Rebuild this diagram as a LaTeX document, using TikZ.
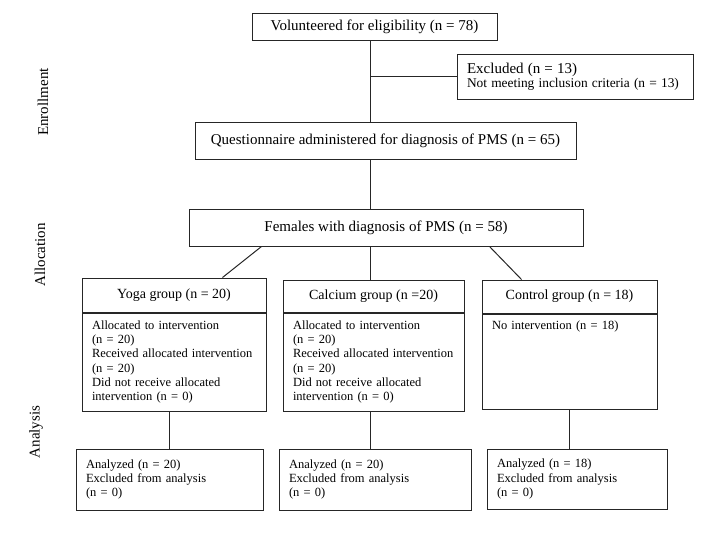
\documentclass[tikz,border=0pt]{standalone}
\usepackage{fontspec}
\setmainfont{Liberation Serif}
\usetikzlibrary{positioning}
\begin{document}
\begin{tikzpicture}[x=1pt, y=-1pt,
      box/.style = {
        rectangle, draw=black!85, line width=1pt, inner sep=0pt },
      main/.style = {
        box, font=\fontsize{15}{17}\selectfont },
      head/.style = {
        box, font=\fontsize{14}{16}\selectfont },
      body/.style = {
        box, align=left, inner xsep=10pt, inner ysep=6pt,
        font=\fontsize{12.5}{14.3}\selectfont },
      stage/.style = { rotate=90, font=\fontsize{15}{17}\selectfont },
      line/.style = { draw=black!85, line width=1pt }]
    \useasboundingbox (0,0) rectangle (701,536);
    \coordinate (spine) at (370,0);
    % stages on the left
    \node [stage] (enrol) at (43,102) {Enrollment};
    \node [stage] (alloc) at (40,255) {Allocation};
    \node [stage] (anal) at (36,432) {Analysis};
    % enrollment
    \node [main, minimum width=245, minimum height=27] (vol) at (374.5,26.5) {Volunteered for eligibility (n = 78)};
    \node [body, text width=226, inner xsep=5pt, minimum height=45, inner ysep=3pt] (excl) at (575,76.5)
      {\hspace*{5pt}{\fontsize{15}{14}\selectfont Excluded (n = 13)}\\\hspace*{5pt}{\fontsize{13.4}{14}\selectfont Not meeting inclusion criteria (n = 13)}};
    \node [main, minimum width=381, minimum height=37] (quest) at (385.5,140.5) {Questionnaire administered for diagnosis of PMS (n = 65)};
    % allocation
    \node [main, minimum width=394, minimum height=37] (fem) at (386,227.5) {Females with diagnosis of PMS (n = 58)};
    \node [head, minimum width=184, minimum height=34] (yoga) at (174,295) {Yoga group (n = 20)};
    \node [head, minimum width=181, minimum height=32] (calc) at (373.5,296) {Calcium group (n =20)};
    \node [head, minimum width=175, minimum height=33] (ctrl) at (569.5,296.5) {Control group (n = 18)};
    \node [body, text width=164, minimum height=98, below=0pt of yoga] (yogabody)
      {Allocated to intervention\\(n = 20)\\Received allocated intervention\\(n = 20)\\Did not receive allocated\\intervention (n = 0)};
    \node [body, text width=161, minimum height=98, below=0pt of calc] (calcbody)
      {Allocated to intervention\\(n = 20)\\Received allocated intervention\\(n = 20)\\Did not receive allocated\\intervention (n = 0)};
    \node [body, text width=155, text height=9pt, text depth=74pt, below=0pt of ctrl] (ctrlbody)
      {No intervention (n = 18)};
    % analysis
    \node [body, text width=167, minimum height=61] (yogares) at (169.5,479.5)
      {Analyzed (n = 20)\\Excluded from analysis\\(n = 0)};
    \node [body, text width=172, minimum height=61] (calcres) at (375,479.5)
      {Analyzed (n = 20)\\Excluded from analysis\\(n = 0)};
    \node [body, text width=160, minimum height=60] (ctrlres) at (577,479)
      {Analyzed (n = 18)\\Excluded from analysis\\(n = 0)};
    % connect the boxes
    \draw [line] (vol.south -| spine) -- (quest.north -| spine);
    \draw [line] (spine |- excl.west) -- (excl.west);
    \draw [line] (quest.south -| spine) -- (fem.north -| spine);
    \draw [line] ([xshift=73pt]fem.south west) -- ([xshift=141pt]yoga.north west);
    \draw [line] (fem.south -| spine) -- (calc.north -| spine);
    \draw [line] ([xshift=-94pt]fem.south east) -- ([xshift=40pt]ctrl.north west);
    \draw [line] (yogabody.south -| yogares.north) -- (yogares.north);
    \draw [line] (calcbody.south -| spine) -- (calcres.north -| spine);
    \draw [line] (ctrlbody.south) -- (ctrlbody.south |- ctrlres.north);
  \end{tikzpicture}
\end{document}
